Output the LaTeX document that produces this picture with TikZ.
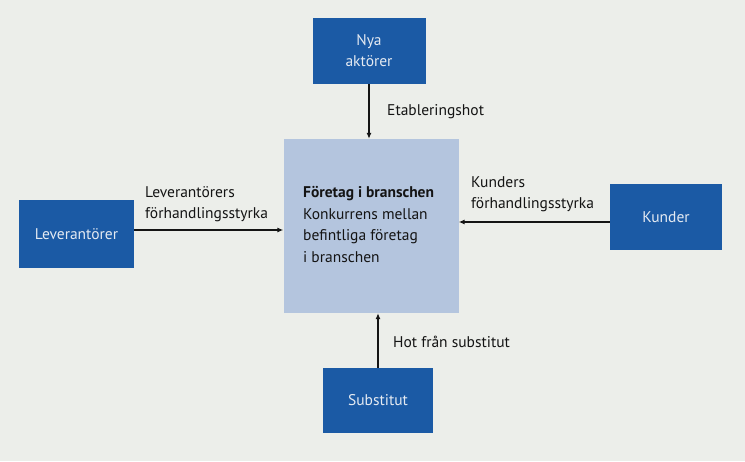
\documentclass[tikz,border=0pt]{standalone}
\usepackage{fontspec}
\setmainfont{PT Sans}
\usetikzlibrary{arrows.meta}
\definecolor{paper}{HTML}{ECEEEA}
\definecolor{forcefill}{HTML}{1B5AA5}
\definecolor{corefill}{HTML}{B4C5DE}
\definecolor{boxtext}{HTML}{E4EAF2}
\definecolor{ink}{HTML}{141414}
\begin{document}
\begin{tikzpicture}[x=1pt,y=-1pt,
  forcebox/.style={fill=forcefill, text=boxtext, align=center, inner sep=0pt,
    font=\fontsize{15.5}{21}\selectfont},
  corebox/.style={fill=corefill, inner sep=0pt, minimum width=175pt, minimum height=174pt},
  lbl/.style={text=ink, inner sep=0pt, align=left, font=\fontsize{15.5}{21}\selectfont},
  arr/.style={draw=ink, line width=1.1pt, -{Latex[length=6pt,width=5pt]}}]
\fill[paper] (0,0) rectangle (745,461);
\useasboundingbox (0,0) rectangle (745,461);

% the five forces
\node[corebox] (core) at (371,226) {};
\node[forcebox, minimum width=113pt, minimum height=66pt] (nya) at (369,51) {Nya\\aktörer};
\node[forcebox, minimum width=115pt, minimum height=68pt] (lev) at (76.5,234) {Leverantörer};
\node[forcebox, minimum width=112pt, minimum height=66pt] (kund) at (666,217) {Kunder};
\node[forcebox, minimum width=110pt, minimum height=65pt] (sub) at (378,400.5) {Substitut};

% text inside the central box
\node[lbl, anchor=north west, font=\fontsize{15.5}{21.5}\selectfont] (coretext) at (303,186.5)
  {\textbf{Företag i branschen}\\Konkurrens mellan\\befintliga företag\\i branschen};

% arrows towards the industry
\draw[arr] (nya.south) -- (nya.south |- core.north);
\draw[arr] (sub.north) -- (sub.north |- core.south);
\draw[arr] ([yshift=4pt]lev.east) -- ([yshift=4pt]lev.east -| core.west);
\draw[arr] ([yshift=-5pt]kund.west) -- ([yshift=-5pt]kund.west -| core.east);

% arrow labels
\node[lbl, anchor=west] (etab) at (387,112) {Etableringshot};
\node[lbl, anchor=north west] (levlbl) at (145,186) {Leverantörers\\förhandlingsstyrka};
\node[lbl, anchor=north west] (kundlbl) at (471,176) {Kunders\\förhandlingsstyrka};
\node[lbl, anchor=west] (hot) at (393,342) {Hot från substitut};
\end{tikzpicture}
\end{document}
